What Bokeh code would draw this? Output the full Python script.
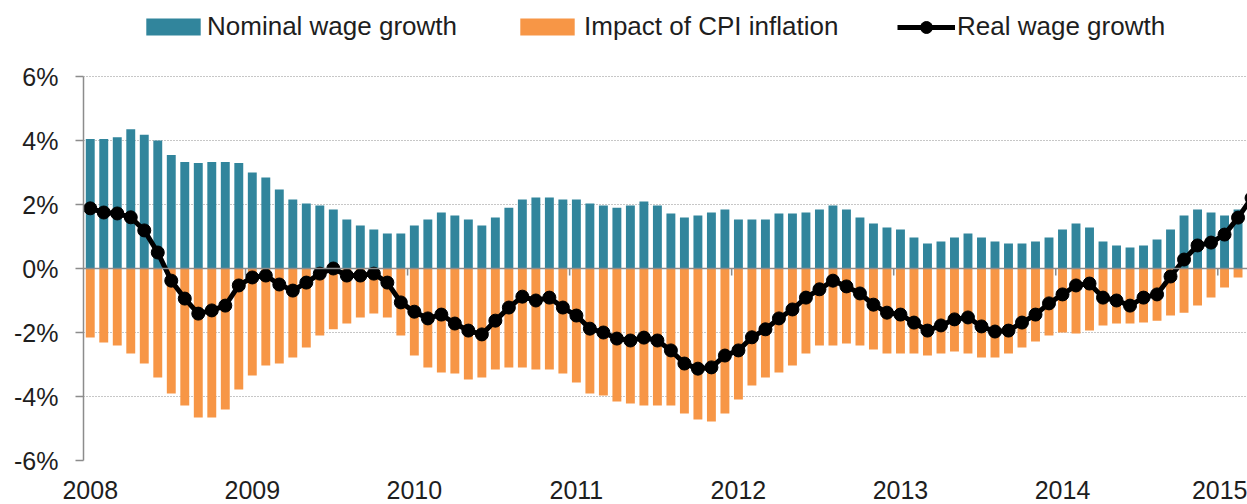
from bokeh.plotting import figure
from bokeh.models import Range1d, FixedTicker, PrintfTickFormatter, Legend, LegendItem, Span
from bokeh.embed import file_html
from bokeh.resources import INLINE

# ---------------- data (monthly, Jan 2008 onwards, % year-on-year) ----------------
years = ["2008", "2009", "2010", "2011", "2012", "2013", "2014", "2015"]

nominal_wage_growth = [
    4.05, 4.05, 4.10, 4.35, 4.18, 4.00, 3.55, 3.33, 3.30, 3.33, 3.33, 3.30,   # 2008
    3.00, 2.84, 2.47, 2.16, 2.03, 1.97, 1.84, 1.53, 1.34, 1.22, 1.09, 1.09,   # 2009
    1.34, 1.53, 1.75, 1.66, 1.53, 1.34, 1.59, 1.90, 2.16, 2.22, 2.22, 2.16,   # 2010
    2.16, 2.03, 1.97, 1.90, 1.97, 2.09, 1.97, 1.72, 1.59, 1.66, 1.75, 1.84,   # 2011
    1.53, 1.53, 1.53, 1.72, 1.72, 1.75, 1.84, 1.97, 1.84, 1.59, 1.41, 1.28,   # 2012
    1.22, 0.97, 0.78, 0.84, 0.97, 1.09, 0.97, 0.84, 0.78, 0.78, 0.84, 0.97,   # 2013
    1.22, 1.41, 1.28, 0.84, 0.72, 0.66, 0.72, 0.91, 1.22, 1.66, 1.84, 1.75,   # 2014
    1.66, 1.84,                                                               # 2015
]

cpi_impact = [
    -2.16, -2.31, -2.41, -2.66, -2.97, -3.41, -3.91, -4.28, -4.66, -4.66, -4.41, -3.78,
    -3.34, -3.03, -2.97, -2.78, -2.47, -2.09, -1.90, -1.72, -1.53, -1.41, -1.53, -2.09,
    -2.72, -3.09, -3.25, -3.28, -3.47, -3.41, -3.16, -3.09, -3.09, -3.16, -3.16, -3.28,
    -3.56, -3.91, -3.97, -4.16, -4.22, -4.28, -4.28, -4.28, -4.53, -4.72, -4.78, -4.53,
    -4.09, -3.66, -3.41, -3.25, -3.03, -2.66, -2.41, -2.41, -2.34, -2.41, -2.53, -2.66,
    -2.66, -2.66, -2.72, -2.66, -2.59, -2.66, -2.78, -2.78, -2.66, -2.47, -2.28, -2.09,
    -2.00, -2.03, -1.94, -1.78, -1.72, -1.72, -1.69, -1.63, -1.47, -1.38, -1.16, -0.91,
    -0.59, -0.28,
]

real_wage_growth = [
    1.88, 1.75, 1.72, 1.60, 1.19, 0.50, -0.38, -0.94, -1.41, -1.31, -1.16, -0.53,
    -0.28, -0.22, -0.50, -0.69, -0.44, -0.16, 0.00, -0.22, -0.22, -0.16, -0.44, -1.06,
    -1.35, -1.56, -1.44, -1.72, -1.94, -2.06, -1.63, -1.22, -0.88, -1.00, -0.91, -1.22,
    -1.47, -1.88, -2.00, -2.19, -2.25, -2.16, -2.25, -2.56, -2.97, -3.13, -3.09, -2.72,
    -2.56, -2.15, -1.90, -1.56, -1.28, -0.91, -0.65, -0.38, -0.56, -0.78, -1.13, -1.38,
    -1.44, -1.69, -1.94, -1.78, -1.59, -1.53, -1.81, -1.97, -1.94, -1.69, -1.44, -1.09,
    -0.81, -0.53, -0.47, -0.91, -1.00, -1.16, -0.91, -0.81, -0.25, 0.28, 0.72, 0.81,
    1.06, 1.59, 2.20,
]

y_ticks = [-6, -4, -2, 0, 2, 4, 6]

# ---------------- styling ----------------
TEAL = "#31859C"
ORANGE = "#F79646"
GREY = "#8c8c8c"
TEXT = "#1e1e1e"
FONT = "Liberation Sans"

W, H = 1247, 504
LEFT, BOTTOM = 83, 44
PX_PER_UNIT = 32.0            # vertical scale (px per percentage point)
frame_h = H - BOTTOM
y_lo = min(y_ticks)
y_hi = y_lo + frame_h / PX_PER_UNIT   # extra room on top holds the legend

months_per_year = 12
x_bar = [i + 0.5 for i in range(len(nominal_wage_growth))]
x_real = [i + 0.5 for i in range(len(real_wage_growth))]

p = figure(
    width=W, height=H,
    output_backend="svg", toolbar_location=None,
    x_range=Range1d(0, len(nominal_wage_growth) + 0.2),
    y_range=Range1d(y_lo, y_hi),
    min_border_left=LEFT, min_border_right=0, min_border_top=0, min_border_bottom=BOTTOM,
)
p.outline_line_color = None
p.background_fill_color = "white"
p.border_fill_color = "white"

# grid
p.xgrid.visible = False
p.ygrid.ticker = FixedTicker(ticks=y_ticks)
p.ygrid.grid_line_color = "#8f8f8f"
p.ygrid.grid_line_dash = "1 2"
p.ygrid.grid_line_width = 1

# y axis
p.yaxis.ticker = FixedTicker(ticks=y_ticks)
p.yaxis.bounds = (min(y_ticks), max(y_ticks))
p.yaxis.formatter = PrintfTickFormatter(format="%d%%")
p.yaxis.axis_line_color = GREY
p.yaxis.axis_line_width = 1.5
p.yaxis.major_tick_line_color = GREY
p.yaxis.major_tick_line_width = 1.5
p.yaxis.major_tick_out = 8
p.yaxis.major_tick_in = 0
p.yaxis.minor_tick_line_color = None
p.yaxis.major_label_standoff = 17
p.yaxis.major_label_text_font = FONT
p.yaxis.major_label_text_font_size = "25px"
p.yaxis.major_label_text_color = TEXT

# x axis: year labels under January bars
year_ticks = [k * months_per_year + 0.5 for k in range(len(years))]
p.xaxis.ticker = FixedTicker(ticks=year_ticks)
p.xaxis.major_label_overrides = {t: y for t, y in zip(year_ticks, years)}
p.xaxis.axis_line_color = None
p.xaxis.major_tick_line_color = None
p.xaxis.minor_tick_line_color = None
p.xaxis.major_label_standoff = 14
p.xaxis.major_label_text_font = FONT
p.xaxis.major_label_text_font_size = "25px"
p.xaxis.major_label_text_color = TEXT

# bars
r_nom = p.vbar(x=x_bar, top=nominal_wage_growth, bottom=0, width=0.66,
               fill_color=TEAL, line_color=None)
r_cpi = p.vbar(x=x_bar, top=cpi_impact, bottom=0, width=0.66,
               fill_color=ORANGE, line_color=None)

# zero line with year-boundary ticks
p.add_layout(Span(location=0, dimension="width", line_color=GREY, line_width=1.5))
bounds = [k * months_per_year for k in range(1, len(years))]
tick_len = 7 / PX_PER_UNIT
p.segment(x0=bounds, y0=[0] * len(bounds), x1=bounds, y1=[-tick_len] * len(bounds),
          line_color=GREY, line_width=1.5)

# real wage line
r_line = p.line(x_real, real_wage_growth, line_color="black", line_width=5)
r_pts = p.scatter(x_real, real_wage_growth, size=13, color="black")

# legends (top band of the frame, above the 6% gridline)
def make_legend(label, renderers, x, standoff, gw, gh):
    lg = Legend(items=[LegendItem(label=label, renderers=renderers)],
                location=(x, frame_h - 27 - 15), orientation="horizontal",
                glyph_width=gw, glyph_height=gh, label_standoff=standoff,
                label_height=30, padding=0, margin=0,
                border_line_color=None, background_fill_alpha=0,
                label_text_font=FONT, label_text_font_size="26px",
                label_text_color=TEXT)
    p.add_layout(lg, "center")

# bar swatches are drawn with a 10% inset, so enlarge the glyph box
make_legend("Nominal wage growth", [r_nom], 146 - LEFT - 7, 0, 68, 21)
make_legend("Impact of CPI inflation", [r_cpi], 520 - LEFT - 7, 3, 68, 21)
make_legend("Real wage growth", [r_line, r_pts], 897 - LEFT, 2, 58, 30)

open("out.html", "w").write(file_html(p, INLINE))
